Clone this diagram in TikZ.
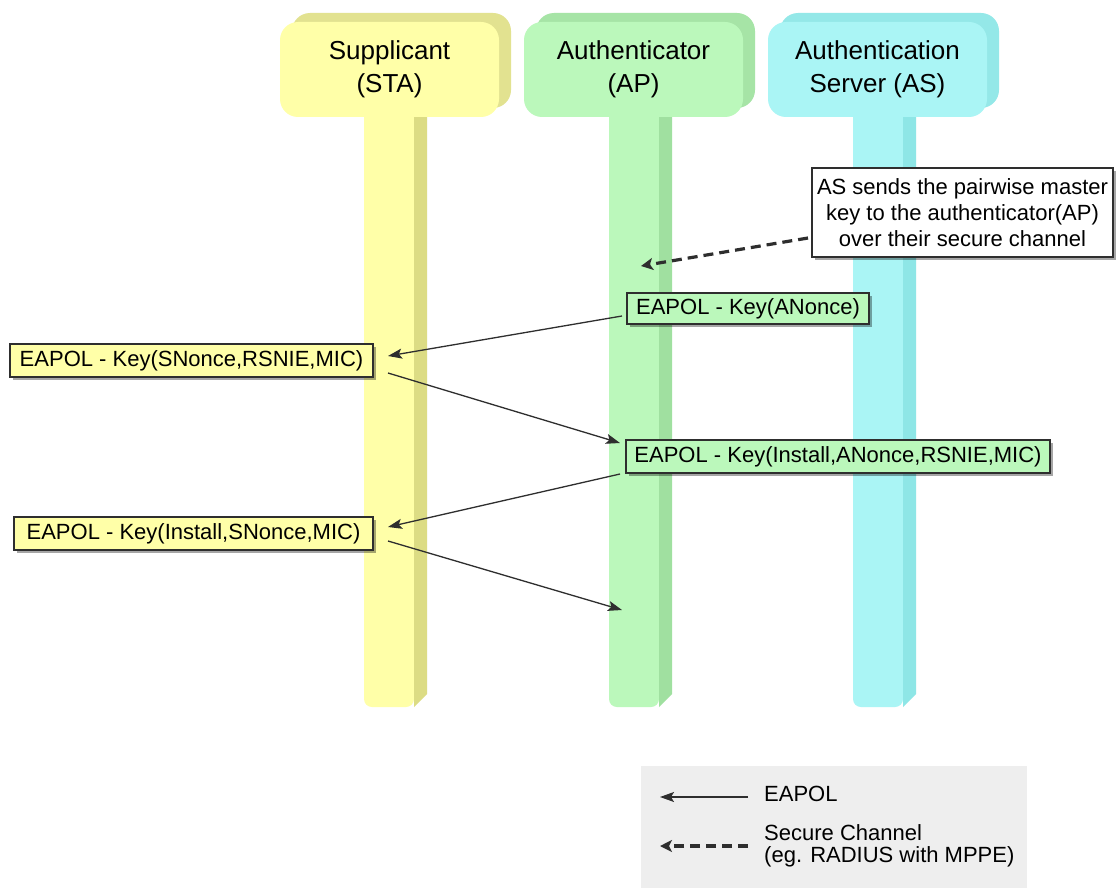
\documentclass[tikz,border=0pt]{standalone}
\usepackage{fontspec}
\setmainfont{Liberation Sans}
\usetikzlibrary{arrows.meta,shadows}
\definecolor{staF}{HTML}{FFFFA8}
\definecolor{staD}{HTML}{DCDC84}
\definecolor{staB}{HTML}{E2E290}
\definecolor{apF}{HTML}{BBF8BB}
\definecolor{apD}{HTML}{A0E0A0}
\definecolor{apB}{HTML}{A6E4A6}
\definecolor{asF}{HTML}{AAF5F5}
\definecolor{asD}{HTML}{8EE6E6}
\definecolor{asB}{HTML}{94E8E8}
\definecolor{ink}{HTML}{2E2E2E}
\definecolor{legbg}{HTML}{EEEEEE}
\begin{document}
\begin{tikzpicture}[x=1pt,y=-1pt,
  header/.style={rounded corners=18pt, minimum width=219pt, minimum height=95pt, inner sep=0pt, align=center, font=\fontsize{26}{33}\selectfont, text=black},
  msgbox/.style={draw=ink, line width=1.3pt, inner sep=0pt, font=\fontsize{22}{26}\selectfont, drop shadow={shadow xshift=3pt, shadow yshift=-3pt, opacity=0.35, fill=black}},
  msg/.style={draw=ink, line width=1.3pt, -{Stealth[length=14pt,width=10pt,inset=3pt]}},
  sec/.style={draw=ink, line width=3.2pt, dash pattern=on 10pt off 6pt, -{Stealth[length=12pt,width=12pt,inset=3pt]}},
  legtext/.style={anchor=west, inner sep=0pt, align=left, font=\fontsize{22}{22}\selectfont}
]
\useasboundingbox (0,0) rectangle (1116,888);
\fill[white] (0,0) rectangle (1116,888);

% lifelines
\foreach \x/\f/\d in {364/staF/staD, 609/apF/apD, 853/asF/asD}{
  \fill[\f, rounded corners=8pt] (\x,100) rectangle ({\x+50},707);
  \fill[\d] ({\x+50},105) -- ({\x+63},105) -- ({\x+63},694) -- ({\x+50},707) -- cycle;
}

% header back shapes
\fill[staB, rounded corners=18pt] (292,13) rectangle (511,108);
\fill[apB, rounded corners=18pt] (536,13) rectangle (755,108);
\fill[asB, rounded corners=18pt] (780,13) rectangle (999,108);

% headers
\node[header, fill=staF] (sta) at (389.5,69.5) {Supplicant\\(STA)};
\node[header, fill=apF] (ap) at (633.5,69.5) {Authenticator\\(AP)};
\node[header, fill=asF] (as) at (877.5,69.5) {Authentication\\Server (AS)};

% note
\node[msgbox, fill=white, minimum width=301pt, minimum height=89pt, align=center] (note) at (962.5,212.5)
  {AS sends the pairwise master\\key to the authenticator(AP)\\over their secure channel};

% message boxes
\node[msgbox, fill=apF, minimum width=242pt, minimum height=31pt] (anonce) at (748,308.5) {EAPOL - Key(ANonce)};
\node[msgbox, fill=staF, minimum width=363pt, minimum height=33pt] (snonce) at (191.5,360.5) {EAPOL - Key(SNonce,RSNIE,MIC)};
\node[msgbox, fill=apF, minimum width=424pt, minimum height=33pt] (instA) at (838,456.5) {EAPOL - Key(Install,ANonce,RSNIE,MIC)};
\node[msgbox, fill=staF, minimum width=359pt, minimum height=33pt] (instS) at (193.5,533.5) {EAPOL - Key(Install,SNonce,MIC)};

% arrow end points
\coordinate (pmk) at (641,266);
\coordinate (m1a) at (622,316);
\coordinate (m1b) at (388,356);
\coordinate (m2a) at (388,373);
\coordinate (m2b) at (620,443);
\coordinate (m3a) at (620,474);
\coordinate (m3b) at (388,527);
\coordinate (m4a) at (388,541);
\coordinate (m4b) at (622,610);
\coordinate (nstart) at (808,238);

\draw[sec] (nstart) -- (pmk);
\draw[msg] (m1a) -- (m1b);
\draw[msg] (m2a) -- (m2b);
\draw[msg] (m3a) -- (m3b);
\draw[msg] (m4a) -- (m4b);

% legend
\fill[legbg] (641,766) rectangle (1027,888);
\coordinate (l1a) at (748,797);
\coordinate (l1b) at (660,797);
\coordinate (l2a) at (748,846);
\coordinate (l2b) at (660,846);
\draw[msg] (l1a) -- (l1b);
\draw[sec] (l2a) -- (l2b);
\node[legtext] (leg1) at (764,794) {EAPOL};
\node[legtext] (leg2) at (764,846) {Secure Channel\\(eg. RADIUS with MPPE)};
\end{tikzpicture}
\end{document}
